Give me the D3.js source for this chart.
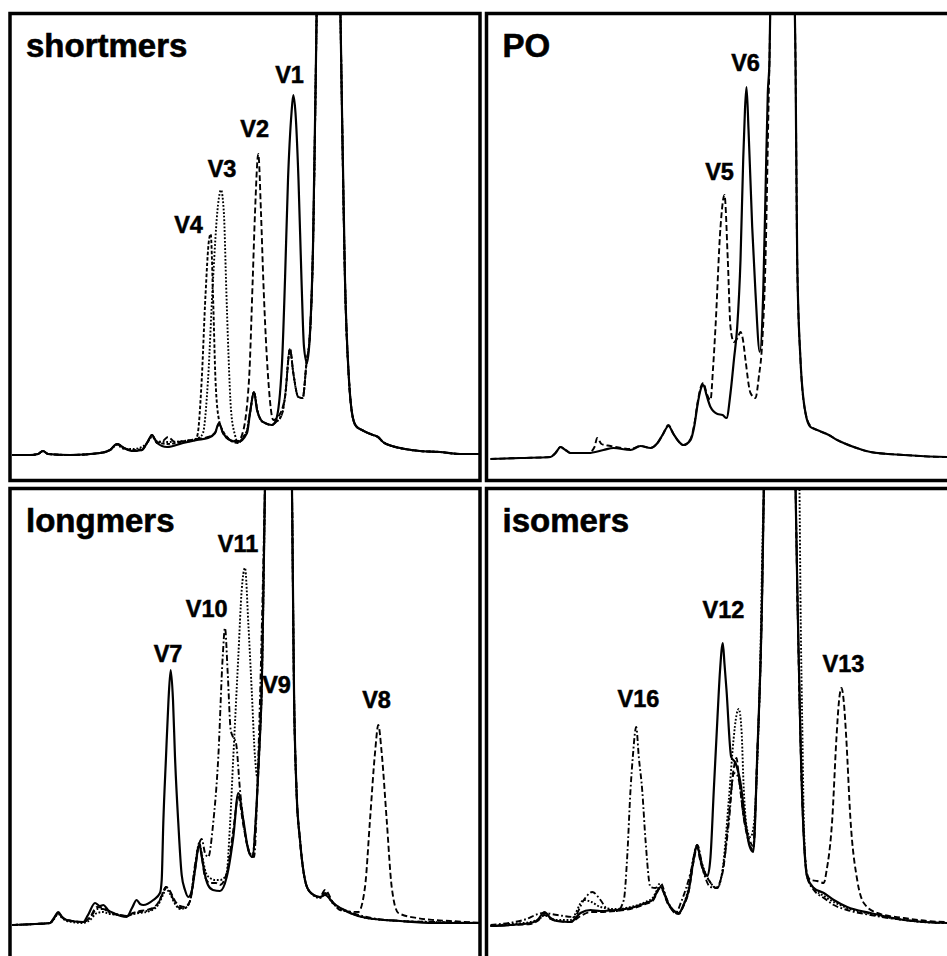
<!DOCTYPE html>
<html>
<head>
<meta charset="utf-8">
<script src="https://cdn.jsdelivr.net/npm/d3@7"></script>
<style>
body { margin: 0; background: #fff; }
svg { display: block; }
</style>
</head>
<body>
<svg width="947" height="956"></svg>
<script>
// chromatograms: [retention time (min), response]

// --- shortmers ---
var shortV1 = [[0.2,0],[2.0,0],[2.8,1],[3.3,4],[3.8,1],[6.0,0],[9.0,2],[10.0,5],[10.7,11],[11.4,7],[12.3,4],[13.2,5],[13.7,12],[14.2,20],[14.7,12],[15.7,8],[17.3,12],[18.7,15],[19.8,17],[20.5,22],[20.9,32],[21.3,22],[22.0,15],[22.8,13],[23.7,22],[24.0,42],[24.4,63],[24.7,45],[25.1,35],[25.5,32],[26.2,30],[26.6,35],[27.2,92],[27.5,175],[27.8,275],[28.15,342],[28.33,360],[28.55,342],[28.85,275],[29.15,175],[29.4,108],[29.7,92],[30.0,122],[30.3,208],[30.57,375],[30.7,470],[31.8,1355],[33.0,470],[33.15,375],[33.5,175],[33.9,75],[34.2,42],[34.6,29],[35.2,25],[35.8,22],[36.3,20],[36.8,18],[37.3,13],[38.2,9],[39.5,6],[41.0,4],[43.0,3],[45.0,1],[47.2,1]];
var shortV2 = [[0.2,0],[2.0,0],[2.8,1],[3.3,4],[3.8,1],[6.0,0],[9.0,2],[10.0,5],[10.7,11],[11.4,7],[12.3,4],[13.2,5],[13.7,12],[14.2,20],[14.7,12],[15.3,14],[15.8,18],[16.5,13],[17.5,14],[18.7,16],[19.8,18],[20.5,22],[20.9,31],[21.3,22],[22.0,15],[22.8,14],[23.2,20],[23.9,75],[24.27,175],[24.5,242],[24.83,301],[25.1,242],[25.33,175],[25.83,75],[26.33,35],[26.8,38],[27.5,58],[28.0,106],[28.33,82],[28.83,58],[29.27,57],[29.65,92],[30.0,122],[30.3,208],[30.57,375],[30.7,470],[31.8,1355],[33.0,470],[33.15,375],[33.5,175],[33.9,75],[34.2,42],[34.6,29],[35.2,25],[35.8,22],[36.3,20],[36.8,18],[37.3,13],[38.2,9],[39.5,6],[41.0,4],[43.0,3],[45.0,1],[47.2,1]];
var shortV3 = [[0.2,0],[2.0,0],[2.8,1],[3.3,4],[3.8,1],[6.0,0],[9.0,2],[10.0,5],[10.7,10],[11.4,6],[12.3,6],[13.2,8],[13.7,12],[14.2,18],[14.7,14],[15.7,13],[17.3,14],[18.5,16],[19.0,18],[19.3,22],[19.8,75],[20.3,175],[20.8,250],[21.1,265],[21.4,240],[21.6,175],[21.85,100],[22.1,45],[22.5,20],[22.83,12],[23.3,18],[23.67,24],[24.0,42],[24.4,63],[24.73,45],[25.07,35],[25.5,32],[26.17,30],[26.6,33],[27.17,40],[27.5,58],[28.0,106],[28.33,82],[28.83,58],[29.27,57],[29.65,92],[30.0,122],[30.3,208],[30.57,375],[30.7,470],[31.8,1355],[33.0,470],[33.15,375],[33.5,175],[33.9,75],[34.2,42],[34.6,29],[35.2,25],[35.8,22],[36.3,20],[36.8,18],[37.3,13],[38.2,9],[39.5,6],[41.0,4],[43.0,3],[45.0,1],[47.2,1]];
var shortV4 = [[0.2,0],[2.0,0],[2.8,1],[3.3,4],[3.8,1],[6.0,0],[9.0,2],[10.0,5],[10.7,11],[11.4,7],[12.3,5],[13.2,6],[13.7,12],[14.2,19],[14.7,13],[15.7,11],[17.3,13],[18.0,14],[18.5,15],[18.75,20],[19.17,75],[19.55,160],[19.9,215],[20.07,221],[20.3,160],[20.55,75],[20.9,35],[21.3,24],[21.8,17],[22.3,13],[22.83,12],[23.3,18],[23.67,23],[24.0,42],[24.4,63],[24.73,45],[25.07,35],[25.5,32],[26.17,30],[26.6,33],[27.17,40],[27.5,58],[28.0,106],[28.33,82],[28.83,58],[29.27,57],[29.65,92],[30.0,122],[30.3,208],[30.57,375],[30.7,470],[31.8,1355],[33.0,470],[33.15,375],[33.5,175],[33.9,75],[34.2,42],[34.6,29],[35.2,25],[35.8,22],[36.3,20],[36.8,18],[37.3,13],[38.2,9],[39.5,6],[41.0,4],[43.0,3],[45.0,1],[47.2,1]];

// --- PO ---
var poV6 = [[0.4,0],[3.4,1],[6.4,2],[6.9,6],[7.4,12],[7.9,9],[8.4,6],[10.2,6],[11.7,9],[12.7,11],[14.4,9],[15.4,13],[16.4,11],[17.1,16],[17.6,24],[18.2,33],[18.7,25],[19.1,19],[19.7,14],[20.4,19],[20.8,34],[21.1,54],[21.4,69],[21.7,74],[22.0,64],[22.4,52],[23.1,45],[23.6,44],[24.0,41],[24.4,66],[24.75,100],[25.07,132],[25.4,199],[25.67,299],[25.85,350],[26.0,372],[26.2,330],[26.57,232],[26.9,166],[27.33,107],[27.67,166],[27.9,266],[28.13,366],[28.3,399],[28.4,470],[29.6,1259],[30.8,470],[30.9,399],[31.07,199],[31.4,99],[31.9,46],[32.4,32],[33.07,29],[34.23,24],[35.07,19],[36.73,12],[38.4,7],[41.73,4],[46.1,2],[47.4,2]];
var poV5 = [[0.4,0],[3.4,1],[6.4,2],[6.9,6],[7.4,12],[7.9,9],[8.4,6],[10.2,6],[10.8,12],[11.07,21],[11.5,15],[12.4,13],[13.5,11],[14.4,10],[15.4,13],[16.4,11],[17.1,16],[17.6,24],[18.2,34],[18.7,25],[19.1,19],[19.7,14],[20.4,20],[20.8,36],[21.1,56],[21.4,71],[21.7,76],[22.0,66],[22.4,59],[22.65,90],[22.9,132],[23.4,232],[23.8,264],[24.13,199],[24.4,132],[24.73,117],[25.1,121],[25.4,127],[25.65,119],[25.9,99],[26.4,66],[26.9,61],[27.23,82],[27.57,116],[27.9,199],[28.23,366],[28.3,399],[28.4,470],[29.6,1259],[30.8,470],[30.9,399],[31.07,199],[31.4,99],[31.9,46],[32.4,33],[33.07,29],[34.23,24],[35.07,19],[36.73,12],[38.4,7],[41.73,4],[46.1,2],[47.4,2]];

// --- longmers ---
var longV7 = [[0.2,0],[2.5,1],[4.0,2],[4.4,7],[4.83,13],[5.2,8],[5.67,5],[7.33,3],[7.8,10],[8.5,22],[9.0,19],[9.33,20],[9.8,15],[10.33,12],[11.67,8],[12.2,17],[12.67,25],[13.0,21],[13.33,20],[14.33,25],[15.0,32],[15.17,45],[15.33,102],[15.6,168],[15.85,225],[16.07,255],[16.3,225],[16.5,168],[16.83,102],[17.17,50],[17.5,35],[17.83,28],[18.2,35],[18.5,55],[18.93,80],[19.2,67],[19.4,55],[19.8,40],[20.3,35],[21.0,34],[21.67,48],[22.33,88],[22.83,132],[23.33,105],[23.83,75],[24.23,68],[24.67,122],[25.0,190],[25.17,235],[25.35,340],[25.5,440],[26.8,1225],[28.2,435],[28.4,235],[28.65,135],[29.0,85],[29.5,45],[30.0,33],[31.0,28],[31.5,30],[32.33,22],[34.0,12],[35.67,7],[39.0,4],[42.33,2],[47.2,2]];
var longV10 = [[0.2,0],[2.5,1],[4.0,2],[4.4,6],[4.83,12],[5.2,8],[5.67,5],[7.33,3],[8.0,7],[8.7,16],[9.3,16],[10.0,12],[11.0,10],[11.67,9],[12.3,11],[13.0,13],[14.0,15],[14.8,21],[15.3,33],[15.6,38],[16.0,33],[16.5,22],[17.0,17],[17.5,17],[18.0,24],[18.5,60],[19.17,86],[19.5,72],[19.83,68],[20.3,100],[20.83,168],[21.27,268],[21.5,297],[21.77,252],[22.07,195],[22.3,188],[22.6,182],[23.0,135],[23.5,92],[24.0,72],[24.4,68],[24.83,168],[25.27,335],[25.5,440],[26.8,1225],[28.2,435],[28.4,235],[28.65,135],[29.0,85],[29.5,45],[30.0,33],[31.0,28],[31.5,32],[32.33,22],[34.0,13],[35.67,8],[39.0,4],[42.33,3],[47.2,2]];
var longV11 = [[0.2,0],[2.5,1],[4.0,2],[4.4,6],[4.83,11],[5.2,7],[5.67,4],[7.33,2],[8.0,5],[8.7,12],[9.3,13],[10.0,11],[11.0,10],[11.67,9],[12.3,11],[13.0,12],[14.0,14],[14.8,20],[15.3,30],[15.6,36],[16.0,31],[16.5,21],[17.0,16],[17.5,17],[18.0,24],[18.5,58],[18.93,82],[19.2,70],[19.6,52],[20.0,47],[20.5,45],[21.0,45],[21.5,48],[21.67,52],[22.0,100],[22.33,168],[22.83,268],[23.17,335],[23.5,357],[23.83,302],[24.17,235],[24.5,168],[24.73,148],[24.95,180],[25.17,235],[25.35,335],[25.5,440],[26.8,1225],[28.2,435],[28.4,235],[28.65,135],[29.0,85],[29.5,45],[30.0,33],[31.0,27],[31.5,31],[32.33,21],[34.0,12],[35.67,7],[39.0,4],[42.33,3],[47.2,2]];
var longV8 = [[0.2,0],[2.5,1],[4.0,2],[4.4,7],[4.83,12],[5.2,8],[5.67,5],[7.33,3],[8.0,8],[8.7,18],[9.3,17],[10.0,13],[11.0,10],[11.67,9],[12.3,12],[13.0,14],[14.0,16],[14.8,22],[15.3,32],[15.6,38],[16.0,34],[16.5,24],[17.0,19],[17.5,18],[18.0,24],[18.5,55],[18.93,82],[19.2,67],[19.5,48],[20.0,42],[20.6,42],[21.0,40],[21.67,52],[22.33,95],[22.83,128],[23.33,100],[23.83,75],[24.23,68],[24.67,122],[25.0,190],[25.17,235],[25.35,340],[25.5,440],[26.8,1225],[28.2,435],[28.4,235],[28.65,135],[29.0,85],[29.5,45],[30.0,33],[31.0,28],[31.5,35],[32.33,22],[33.0,15],[34.83,13],[35.5,38],[36.0,105],[36.5,172],[36.83,200],[37.17,172],[37.67,105],[38.17,38],[38.83,12],[40.67,7],[42.33,5],[44.0,4],[47.2,2]];

// --- isomers ---
var isoV12 = [[0.4,0],[2.4,1],[4.4,3],[5.1,6],[5.8,14],[6.4,8],[7.0,5],[8.4,4],[9.4,13],[10.4,16],[11.4,15],[12.9,16],[14.4,18],[15.9,23],[16.6,26],[17.4,39],[18.2,22],[19.23,13],[19.7,21],[20.23,36],[20.7,66],[21.07,81],[21.4,66],[21.8,54],[22.1,50],[22.4,69],[22.73,136],[23.07,203],[23.35,255],[23.63,283],[23.8,262],[24.0,236],[24.47,169],[24.9,163],[25.4,143],[25.9,103],[26.3,80],[26.67,74],[27.07,169],[27.57,336],[27.73,436],[29.4,1226],[30.9,441],[31.1,326],[31.4,186],[31.73,89],[32.07,49],[32.73,38],[33.73,33],[34.73,26],[36.07,19],[38.4,13],[41.73,6],[46.1,3],[47.4,3]];
var isoV16 = [[0.4,1],[3.7,6],[5.7,13],[7.07,11],[8.73,9],[9.73,26],[10.57,34],[11.4,26],[12.07,17],[13.07,15],[13.73,26],[14.07,69],[14.4,136],[14.63,169],[14.97,199],[15.23,169],[15.57,136],[15.9,86],[16.4,39],[16.9,38],[17.4,43],[18.07,26],[18.9,13],[19.5,25],[20.4,53],[21.07,81],[21.73,53],[22.4,39],[23.07,38],[23.57,53],[24.23,103],[24.73,153],[25.0,152],[25.23,146],[25.73,108],[26.3,86],[26.67,80],[27.07,169],[27.57,336],[27.73,436],[29.4,1226],[30.9,441],[31.1,326],[31.4,186],[31.73,89],[32.07,49],[32.73,36],[33.73,28],[34.73,21],[36.07,16],[38.4,11],[41.73,6],[46.1,3],[47.4,3]];
var isoDot = [[0.4,0],[2.4,2],[4.4,4],[5.4,8],[5.8,11],[6.4,8],[7.0,6],[8.4,6],[9.73,26],[10.5,24],[11.4,19],[12.9,17],[14.4,19],[15.9,24],[16.6,28],[17.4,40],[18.2,22],[19.23,13],[19.7,21],[20.23,40],[20.7,68],[21.07,81],[21.4,68],[21.8,55],[22.23,46],[23.07,38],[23.6,56],[24.23,126],[24.7,186],[25.0,211],[25.23,217],[25.5,196],[25.73,136],[26.07,96],[26.4,89],[26.73,101],[27.1,169],[27.4,276],[27.6,386],[27.75,436],[29.5,1226],[31.3,436],[31.4,326],[31.6,186],[31.75,96],[32.07,49],[32.9,36],[33.73,30],[34.73,24],[36.07,18],[38.4,12],[41.73,6],[46.1,3],[47.4,3]];
var isoV13 = [[0.4,0],[2.4,1],[4.4,2],[5.1,5],[5.8,11],[6.4,7],[7.0,5],[8.4,4],[9.4,10],[10.4,14],[11.4,14],[12.9,15],[14.4,17],[15.9,22],[16.6,25],[17.4,38],[18.2,21],[19.23,12],[19.7,20],[20.23,35],[20.7,64],[21.07,79],[21.4,64],[21.8,52],[22.23,46],[22.9,38],[23.6,53],[24.23,110],[24.73,158],[25.0,168],[25.23,150],[25.73,108],[26.3,82],[26.67,76],[27.07,169],[27.57,336],[27.73,436],[29.4,1226],[30.9,441],[31.1,326],[31.4,186],[31.73,89],[32.07,52],[32.4,46],[33.07,45],[33.73,43],[34.0,55],[34.57,106],[35.0,189],[35.25,225],[35.5,238],[35.75,222],[35.97,189],[36.4,106],[37.07,46],[37.73,23],[39.07,13],[41.73,8],[46.1,4],[47.4,4]];

// peak labels: [name, time, response]
var shortLabels = [["V1",27.95,372],["V2",24.47,318],["V3",21.2,278],["V4",17.85,222]];
var poLabels = [["V6",25.9,388],["V5",23.3,279]];
var longLabels = [["V11",22.8,373],["V10",19.67,308],["V7",15.8,263],["V9",26.65,232],["V8",36.65,217]];
var isoLabels = [["V12",23.7,308],["V16",15.2,219],["V13",35.7,254]];

var panelTitles = ["shortmers", "PO", "longmers", "isomers"];

var dashes = {
  solid: null,
  dash: "6,3",
  shortdash: "3.5,2",
  dot: "1.8,1.8",
  dashdot: "6,2.5,1.8,2.5"
};

var panels = [
  {col: 0, row: 0, base: 455, labels: shortLabels,
   traces: [[shortV2, "dash"], [shortV3, "dot"], [shortV4, "shortdash"], [shortV1, "solid"]]},
  {col: 1, row: 0, base: 459, labels: poLabels,
   traces: [[poV5, "dash"], [poV6, "solid"]]},
  {col: 0, row: 1, base: 925, labels: longLabels,
   traces: [[longV8, "dash"], [longV10, "dashdot"], [longV11, "dot"], [longV7, "solid"]]},
  {col: 1, row: 1, base: 926, labels: isoLabels,
   traces: [[isoV13, "dash"], [isoV16, "dashdot"], [isoDot, "dot"], [isoV12, "solid"]]}
];

var colX = [10, 486.5],
    rowY = [13.5, 488.5],
    panelW = 470,
    panelH = [467, 480];

var svg = d3.select("svg");
var defs = svg.append("defs");

panels.forEach(function(p, i) {
  var x0 = colX[p.col], y0 = rowY[p.row], h = panelH[p.row];

  var x = d3.scaleLinear().domain([0, 47]).range([x0, x0 + panelW]);
  var y = d3.scaleLinear().domain([0, 440]).range([p.base, p.base - 440]);

  defs.append("clipPath").attr("id", "clip" + i)
    .append("rect")
      .attr("x", x0).attr("y", y0)
      .attr("width", panelW).attr("height", h);

  var g = svg.append("g");

  var line = d3.line()
      .x(function(d) { return x(d[0]); })
      .y(function(d) { return y(d[1]); })
      .curve(d3.curveMonotoneX);

  g.append("g")
      .attr("clip-path", "url(#clip" + i + ")")
    .selectAll("path")
    .data(p.traces)
    .enter().append("path")
      .attr("d", function(d) { return line(d[0]); })
      .attr("fill", "none")
      .attr("stroke", "#000")
      .attr("stroke-width", function(d) { return d[1] == "solid" ? 2.2 : 1.9; })
      .attr("stroke-dasharray", function(d) { return dashes[d[1]]; });

  g.selectAll("text.peak")
    .data(p.labels)
    .enter().append("text")
      .attr("class", "peak")
      .attr("x", function(d) { return x(d[1]); })
      .attr("y", function(d) { return y(d[2]); })
      .attr("text-anchor", "middle")
      .attr("font-family", "'Liberation Sans', Arial, sans-serif")
      .attr("font-weight", "bold")
      .attr("font-size", 23.5)
      .attr("stroke", "#000")
      .attr("stroke-width", 0.5)
      .text(function(d) { return d[0]; });

  g.append("text")
      .attr("x", x0 + 16)
      .attr("y", y0 + 43)
      .attr("font-family", "'Liberation Sans', Arial, sans-serif")
      .attr("font-weight", "bold")
      .attr("font-size", 33)
      .attr("stroke", "#000")
      .attr("stroke-width", 0.6)
      .text(panelTitles[i]);

  g.append("rect")
      .attr("x", x0).attr("y", y0)
      .attr("width", panelW).attr("height", h)
      .attr("fill", "none")
      .attr("stroke", "#000")
      .attr("stroke-width", 3.5);
});
</script>
</body>
</html>
